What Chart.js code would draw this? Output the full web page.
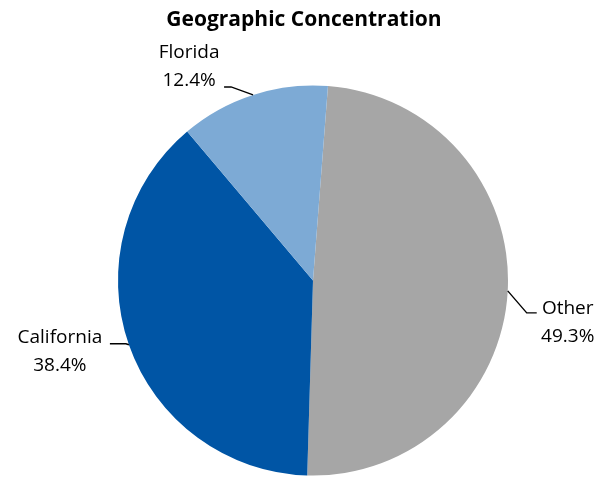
<!DOCTYPE html>
<html>
<head>
<meta charset="utf-8">
<script src="https://cdn.jsdelivr.net/npm/chart.js@4/dist/chart.umd.min.js"></script>
<style>
  html, body { margin: 0; padding: 0; background: #ffffff; }
  #wrap { width: 599px; height: 477px; }
</style>
</head>
<body>
<div id="wrap"><canvas id="c" width="599" height="477"></canvas></div>
<script>
const chartTitle = "Geographic Concentration";
const categories = ["Other", "California", "Florida"];
const shares = [49.3, 38.4, 12.4];
const valueLabels = ["49.3%", "38.4%", "12.4%"];

const sliceColors = ["#A6A6A6", "#0055A5", "#7DAAD5"];
const FONT = "'Open Sans', 'Liberation Sans', sans-serif";

// leader-line / label offsets relative to the arc's outer mid point
const labelLayout = [
  { elbow: [19, 22], end: [29, 22], text: [60, 23] },
  { elbow: [-3, -1], end: [-19, -1], text: [-69, -2] },
  { elbow: [-22, -8], end: [-29, -8], text: [-64, -37] }
];

const labelPlugin = {
  id: 'outLabels',
  afterDraw(chart) {
    const ctx = chart.ctx;
    ctx.save();
    // title
    ctx.fillStyle = '#000';
    ctx.font = "bold 21px " + FONT;
    ctx.textAlign = 'center';
    ctx.textBaseline = 'alphabetic';
    ctx.fillText(chartTitle, 304, 26);

    const meta = chart.getDatasetMeta(0);
    meta.data.forEach((arc, i) => {
      const mid = (arc.startAngle + arc.endAngle) / 2;
      const r = arc.outerRadius;
      const ex = arc.x + Math.cos(mid) * r;
      const ey = arc.y + Math.sin(mid) * r;
      const L = labelLayout[i];
      ctx.strokeStyle = '#000';
      ctx.lineWidth = 1.4;
      ctx.beginPath();
      ctx.moveTo(ex, ey);
      ctx.lineTo(ex + L.elbow[0], ey + L.elbow[1]);
      ctx.lineTo(ex + L.end[0], ey + L.end[1]);
      ctx.stroke();
      ctx.font = "19px " + FONT;
      ctx.textAlign = 'center';
      ctx.fillStyle = '#000';
      const tx = ex + L.text[0], ty = ey + L.text[1];
      ctx.fillText(categories[i], tx, ty);
      ctx.fillText(valueLabels[i], tx, ty + 28.5);
    });
    ctx.restore();
  }
};

new Chart(document.getElementById('c'), {
  type: 'pie',
  data: {
    labels: categories,
    datasets: [{
      data: shares,
      backgroundColor: sliceColors,
      borderWidth: 0,
      hoverOffset: 0
    }]
  },
  options: {
    responsive: false,
    animation: false,
    rotation: 4.4,
    layout: { padding: { top: 85.5, bottom: 1.5, left: 27, right: 0 } },
    plugins: {
      legend: { display: false },
      title: { display: false },
      tooltip: { enabled: false }
    }
  },
  plugins: [labelPlugin]
});
</script>
</body>
</html>
